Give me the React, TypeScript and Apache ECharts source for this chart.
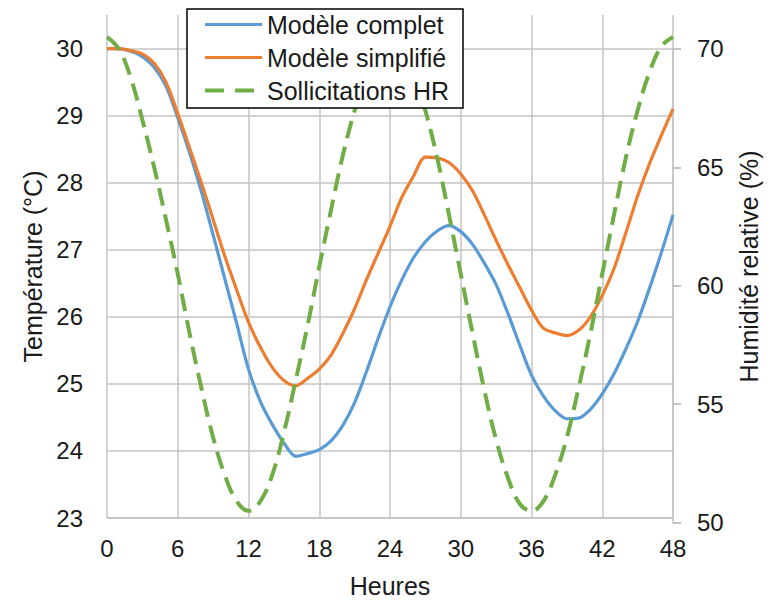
import React, { useEffect, useRef } from "react";
import * as echarts from "echarts";

const hours = [
  0, 1, 2, 3, 4, 5, 6, 7, 8, 9, 10, 11, 12, 13, 14, 15, 16, 17, 18, 19, 20, 21, 22, 23, 24,
  25, 26, 27, 28, 29, 30, 31, 32, 33, 34, 35, 36, 37, 38, 39, 40, 41, 42, 43, 44, 45, 46, 47, 48,
];

const tempComplet = [
  30.0, 30.0, 29.96, 29.88, 29.72, 29.44, 28.97, 28.45, 27.87, 27.22, 26.56, 25.9, 25.22,
  24.74, 24.4, 24.12, 23.92, 23.96, 24.02, 24.15, 24.38, 24.72, 25.18, 25.68, 26.15,
  26.55, 26.88, 27.12, 27.28, 27.36, 27.27, 27.08, 26.8, 26.48, 26.05, 25.58, 25.13,
  24.82, 24.6, 24.48, 24.49, 24.62, 24.85, 25.15, 25.52, 25.93, 26.42, 26.95, 27.52,
];

const tempSimplifie = [
  30.0, 30.0, 29.97, 29.92, 29.78, 29.5, 29.03, 28.52, 28.0, 27.45, 26.9, 26.4, 25.92,
  25.55, 25.25, 25.05, 24.97, 25.08, 25.22, 25.43, 25.75, 26.12, 26.55, 26.95, 27.35,
  27.78, 28.1, 28.38, 28.37, 28.3, 28.13, 27.88, 27.52, 27.14, 26.78, 26.44, 26.1,
  25.83, 25.76, 25.72, 25.8, 26.0, 26.32, 26.72, 27.25, 27.8, 28.28, 28.7, 29.1,
];

const humiditeHR = [
  70.5, 70.0, 68.8, 67.0, 65.0, 62.8, 60.5, 58.0, 55.7, 53.6, 52.0, 50.9, 50.5,
  50.9, 52.0, 53.8, 56.0, 58.3, 60.8, 63.2, 65.5, 67.4, 69.0, 70.1, 70.5,
  70.1, 69.0, 67.4, 65.4, 63.0, 60.5, 58.0, 55.6, 53.5, 51.9, 50.8, 50.5,
  50.9, 52.0, 53.6, 55.7, 58.0, 60.5, 63.0, 65.4, 67.4, 69.0, 70.1, 70.5,
];

const seriesNames = ["Modèle complet", "Modèle simplifié", "Sollicitations HR"];

const TEXT = "#1a1a1a";
const GRIDC = "#c4c4c4";
const FONT = "'Liberation Sans', Arial, Helvetica, sans-serif";

export default function App() {
  const ref = useRef<HTMLDivElement>(null);

  useEffect(() => {
    if (!ref.current) return;
    const chart = echarts.init(ref.current, undefined, { renderer: "svg" });
    const pair = (arr: number[]) => hours.map((h, i) => [h, arr[i]]);
    // 23..30 are drawn, the extra line at the axis maximum (30.5) is transparent
    const ySplitColors = [GRIDC, GRIDC, GRIDC, GRIDC, GRIDC, GRIDC, GRIDC, GRIDC, "rgba(0,0,0,0)"];
    const option: any = {
      animation: false,
      backgroundColor: "#ffffff",
      textStyle: { fontFamily: FONT, color: TEXT },
      grid: [
        { left: 107, right: 98, top: 15, bottom: 80.3 },
        { left: 107, right: 98, top: 48.87, bottom: 80.3 },
      ],
      legend: {
        orient: "vertical",
        left: 187,
        top: 9,
        padding: [3, 14, 5, 16],
        itemGap: 8,
        itemWidth: 57,
        itemHeight: 25,
        backgroundColor: "#ffffff",
        borderColor: "#000000",
        borderWidth: 1.5,
        borderRadius: 0,
        itemStyle: { opacity: 0 },
        textStyle: { fontSize: 25, color: TEXT, fontFamily: FONT },
        data: [
          { name: seriesNames[0], lineStyle: { width: 3.2 } },
          { name: seriesNames[1], lineStyle: { width: 3.2 } },
          { name: seriesNames[2], lineStyle: { type: [19, 11], width: 4 } },
        ],
      },
      xAxis: [
        {
          type: "value",
          gridIndex: 0,
          min: 0,
          max: 48,
          interval: 6,
          name: "Heures",
          nameLocation: "middle",
          nameGap: 55,
          nameTextStyle: { fontSize: 25, color: TEXT, fontFamily: FONT },
          axisLine: { show: true, lineStyle: { color: GRIDC, width: 1.5, opacity: 1 } },
          axisTick: { show: false },
          axisLabel: { fontSize: 24, color: TEXT, margin: 18, fontFamily: FONT },
          splitLine: { show: true, lineStyle: { color: GRIDC, width: 1.5, opacity: 1 } },
        },
        {
          type: "value",
          gridIndex: 1,
          min: 0,
          max: 48,
          show: false,
        },
      ],
      yAxis: [
        {
          type: "value",
          gridIndex: 0,
          min: 23,
          max: 30.5,
          interval: 1,
          name: "Température (°C)",
          nameLocation: "middle",
          nameGap: 57,
          nameRotate: 90,
          nameTextStyle: { fontSize: 25, color: TEXT, fontFamily: FONT },
          axisLine: { show: false },
          axisTick: { show: false },
          axisLabel: { fontSize: 24, color: TEXT, margin: 24, showMaxLabel: false, fontFamily: FONT },
          splitLine: { show: true, lineStyle: { color: ySplitColors, width: 1.5, opacity: 1 } },
        },
        {
          type: "value",
          gridIndex: 1,
          position: "right",
          min: 50,
          max: 70,
          interval: 5,
          axisLine: { show: true, onZero: false, lineStyle: { color: GRIDC, width: 1.5, opacity: 1 } },
          axisTick: { show: true, inside: false, length: 8, lineStyle: { color: "#b0b0b0", width: 1.5, opacity: 1 } },
          axisLabel: { fontSize: 24, color: TEXT, margin: 24, fontFamily: FONT },
          splitLine: { show: false },
        },
        {
          type: "value",
          gridIndex: 0,
          position: "right",
          min: 0,
          max: 1,
          name: "Humidité relative (%)",
          nameLocation: "middle",
          nameGap: 63,
          nameRotate: 90,
          nameTextStyle: { fontSize: 25, color: TEXT, fontFamily: FONT },
          axisLine: { show: false },
          axisTick: { show: false },
          axisLabel: { show: false },
          splitLine: { show: false },
        },
      ],
      series: [
        {
          name: seriesNames[0],
          type: "line",
          xAxisIndex: 0,
          yAxisIndex: 0,
          data: pair(tempComplet),
          symbol: "none",
          smooth: 0.3,
          lineStyle: { color: "#5B9BD5", width: 3.2 },
          itemStyle: { color: "#5B9BD5" },
        },
        {
          name: seriesNames[1],
          type: "line",
          xAxisIndex: 0,
          yAxisIndex: 0,
          data: pair(tempSimplifie),
          symbol: "none",
          smooth: 0.3,
          lineStyle: { color: "#ED7D31", width: 3.2 },
          itemStyle: { color: "#ED7D31" },
        },
        {
          name: seriesNames[2],
          type: "line",
          xAxisIndex: 1,
          yAxisIndex: 1,
          data: pair(humiditeHR),
          symbol: "none",
          smooth: 0.4,
          clip: false,
          lineStyle: { color: "#70AD47", width: 4, type: [18, 9] },
          itemStyle: { color: "#70AD47" },
        },
      ],
    };
    chart.setOption(option);
    return () => chart.dispose();
  }, []);

  return (
    <div
      ref={ref}
      style={{ position: "fixed", left: 0, top: 0, width: 771, height: 603, background: "#fff" }}
    />
  );
}
